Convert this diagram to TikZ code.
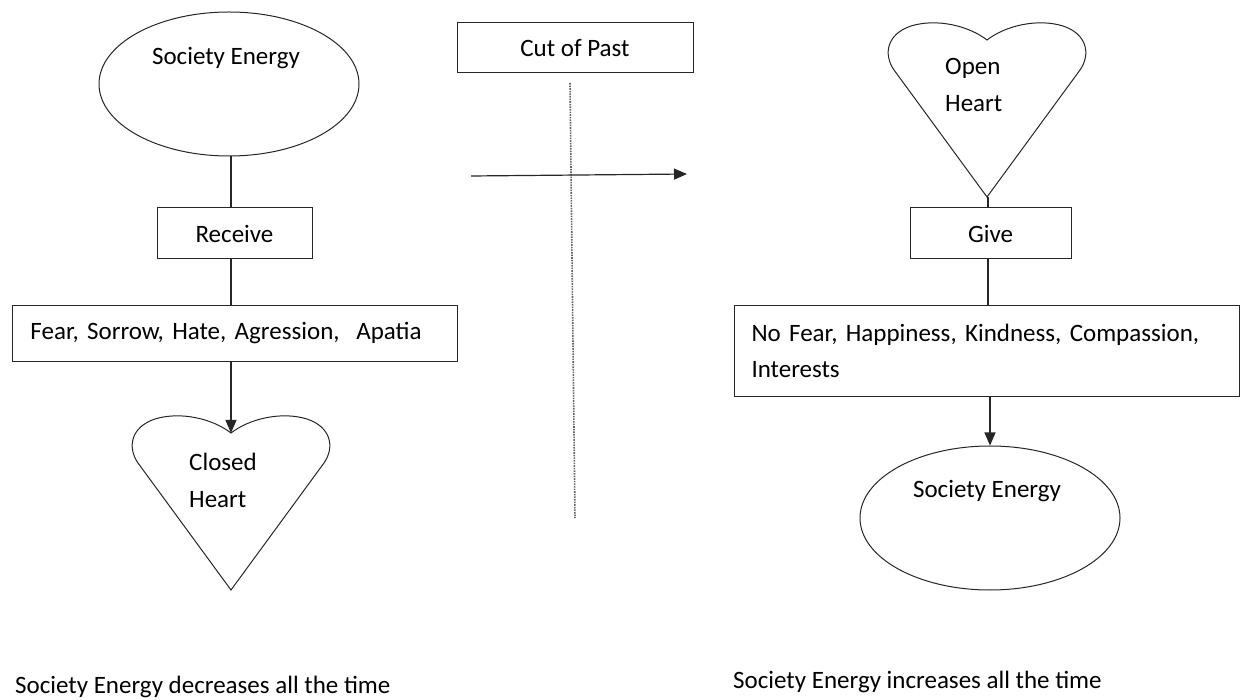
\documentclass[tikz,border=0pt]{standalone}
\usepackage{fontspec}
\setmainfont{Carlito}
\usetikzlibrary{shapes.geometric,arrows.meta,calc}
\tikzset{
  shp/.style={draw=black!85, line width=1pt},
  box/.style={shp, rectangle, inner sep=0pt, font=\fontsize{25}{36}\selectfont},
  oval/.style={shp, ellipse, inner sep=0pt},
  txt/.style={inner sep=0pt, font=\fontsize{25}{37}\selectfont},
  conn/.style={draw=black!85, line width=1.2pt},
  arr/.style={conn, -{Triangle[length=13pt,width=11pt]}},
  dots/.style={draw=black!60, line width=1.6pt, densely dotted},
}
\newcommand{\heartpath}[1]{%
  \draw[shp] ($(#1)+(0,157)$) -- ($(#1)+(-93,30)$)
    .. controls ($(#1)+(-104,14)$) and ($(#1)+(-100,-6)$) .. ($(#1)+(-76,-14)$)
    .. controls ($(#1)+(-50,-22)$) and ($(#1)+(-18,-14)$) .. (#1)
    .. controls ($(#1)+(18,-14)$) and ($(#1)+(50,-22)$) .. ($(#1)+(76,-14)$)
    .. controls ($(#1)+(100,-6)$) and ($(#1)+(104,14)$) .. ($(#1)+(93,30)$)
    -- cycle;}
\begin{document}
\begin{tikzpicture}[x=1pt,y=-1pt]
\useasboundingbox (0,0) rectangle (1240,700);
% left column
\node[oval, minimum width=260pt, minimum height=144pt] (se1) at (229,84) {};
\node[txt] (se1t) at (226,58) {Society Energy};
\node[box, minimum width=155pt, minimum height=51pt] (rec) at (234.5,233.5) {Receive};
\node[box, anchor=north west, minimum height=56pt, text width=409pt, inner xsep=18pt, align=left] (fear) at (12,305) {Fear, Sorrow, Hate, Agression,\ \ Apatia};
\coordinate (ch) at (231,433);
\heartpath{ch}
\node[txt, anchor=west, align=left] (cht) at (189,480) {Closed\\Heart};
\draw[conn] (ch |- se1.south) -- (ch |- rec.north);
\draw[conn] (ch |- rec.south) -- (ch |- fear.north);
\draw[arr] (ch |- fear.south) -- (ch);
\node[txt, anchor=base west] (dec) at (15,693) {Society Energy decreases all the time};
% middle
\node[box, minimum width=236pt, minimum height=50pt] (cut) at (575,48) {Cut of Past};
\coordinate (dt) at (570,83);
\coordinate (db) at (575,518);
\draw[dots] (dt) -- (db);
\coordinate (as) at (471,176);
\coordinate (ae) at (687,174);
\draw[arr] (as) -- (ae);
% right column
\coordinate (oh) at (987,40);
\heartpath{oh}
\coordinate (ohb) at (988,197);
\node[txt, anchor=west, align=left] (oht) at (945,85) {Open\\Heart};
\node[box, minimum width=161pt, minimum height=51pt] (give) at (990.5,233.5) {Give};
\node[box, anchor=north west, minimum height=91pt, text width=471pt, inner xsep=17pt, align=left] (nofear) at (734,305) {No Fear, Happiness, Kindness, Compassion,\\Interests};
\node[oval, minimum width=260pt, minimum height=144pt] (se2) at (990,518) {};
\node[txt] (se2t) at (987,491) {Society Energy};
\draw[conn] (ohb) -- (ohb |- give.north);
\draw[conn] (ohb |- give.south) -- (ohb |- nofear.north);
\draw[arr] (se2.north |- nofear.south) -- (se2.north);
\node[txt, anchor=base west] (inc) at (733,688) {Society Energy increases all the time};
\end{tikzpicture}
\end{document}
